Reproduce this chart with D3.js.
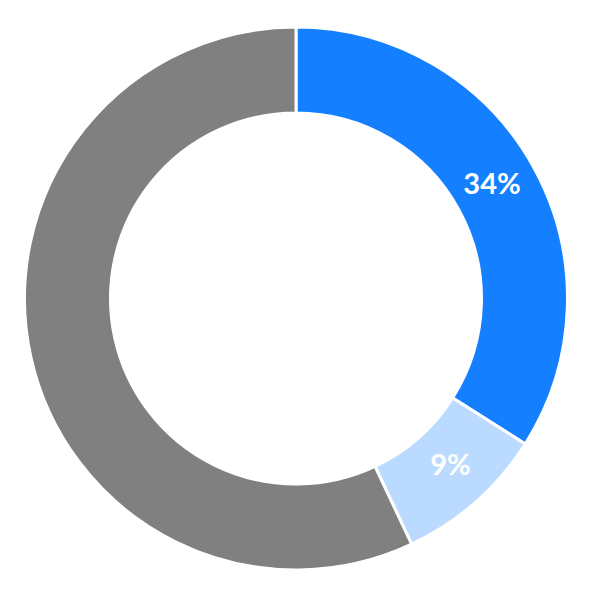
<!DOCTYPE html>
<html>
<head>
<meta charset="utf-8">
<script src="https://cdn.jsdelivr.net/npm/d3@7"></script>
<style>
html,body{margin:0;padding:0;background:#fff;}
svg{display:block;}
</style>
</head>
<body>
<svg id="chart" width="592" height="599"></svg>
<script>
const categories = ["A", "B", "C"];
const values = [34, 9, 57];
const labels = ["34%", "9%", ""];
const colors = ["#1480FF", "#BBDAFF", "#808080"];

const svg = d3.select("#chart");
const cx = 296, cy = 298.5, outerR = 271.5, innerR = 185.5;
const g = svg.append("g").attr("transform", `translate(${cx},${cy})`);

const pie = d3.pie().sort(null).value(d => d.v);
const data = categories.map((c, i) => ({c, v: values[i], label: labels[i], color: colors[i]}));
const arcs = pie(data);
const arc = d3.arc().innerRadius(innerR).outerRadius(outerR);

g.selectAll("path").data(arcs).join("path")
  .attr("d", arc)
  .attr("fill", d => d.data.color)
  .attr("stroke", "#fff")
  .attr("stroke-width", 3);

const labelR = 227, angShift = -0.026;
g.selectAll("text").data(arcs.filter(d => d.data.label)).join("text")
  .attr("transform", d => {
    const a = (d.startAngle + d.endAngle) / 2 + angShift;
    return `translate(${labelR * Math.sin(a)},${-labelR * Math.cos(a)})`;
  })
  .attr("text-anchor", "middle")
  .attr("dy", "0.36em")
  .attr("fill", "#fff")
  .attr("font-family", "Lato, 'Open Sans', sans-serif")
  .attr("font-weight", "bold")
  .attr("font-size", 29)
  .text(d => d.data.label);
</script>
</body>
</html>
